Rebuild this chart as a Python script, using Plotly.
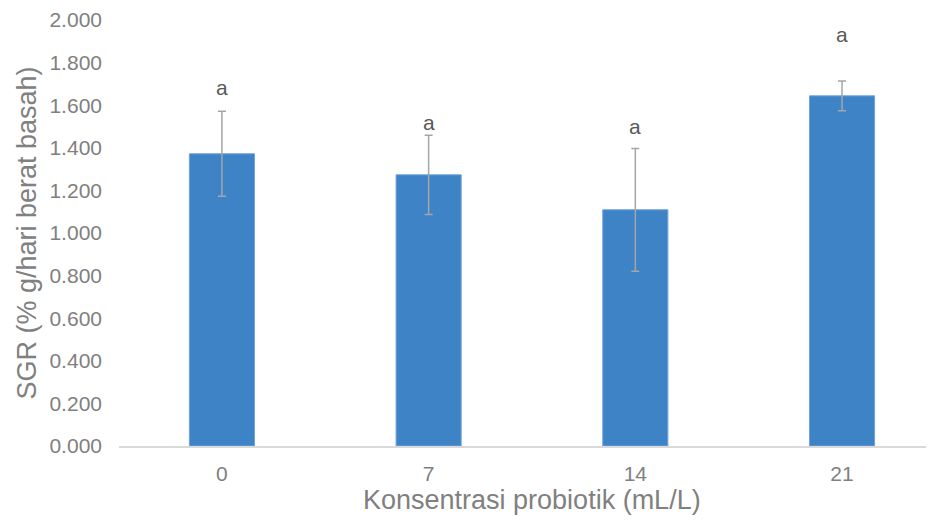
import plotly.graph_objects as go

categories = ["0", "7", "14", "21"]
sgr = [1.372, 1.273, 1.109, 1.644]
err = [0.200, 0.186, 0.288, 0.070]
letters = ["a", "a", "a", "a"]
letter_y = [1.681, 1.521, 1.498, 1.930]
y_ticks = [0, 0.2, 0.4, 0.6, 0.8, 1.0, 1.2, 1.4, 1.6, 1.8, 2.0]
y_tick_labels = ["0.000", "0.200", "0.400", "0.600", "0.800", "1.000",
                 "1.200", "1.400", "1.600", "1.800", "2.000"]

FONT = "Liberation Sans, Arial, sans-serif"
GRAY = "#808080"

fig = go.Figure()
fig.add_trace(go.Bar(
    x=list(range(len(categories))), y=sgr, width=0.315,
    marker=dict(color="#3E83C6", line=dict(color="#6FA3DA", width=1)),
    error_y=dict(type="data", array=err, visible=True, color="#A6A6A6",
                 thickness=1.5, width=4),
    showlegend=False,
))

for i, (ly, t) in enumerate(zip(letter_y, letters)):
    fig.add_annotation(x=i, y=ly, text=t, showarrow=False, yanchor="middle",
                       font=dict(family=FONT, size=21, color="#595959"))

fig.add_annotation(x=0.5067, y=-0.088, xref="paper", yref="paper",
                   text="Konsentrasi probiotik (mL/L)", showarrow=False,
                   xanchor="center", yanchor="top",
                   font=dict(family=FONT, size=27, color=GRAY))

fig.update_layout(
    width=926, height=513,
    margin=dict(l=111, r=0, t=12, b=75),
    plot_bgcolor="white", paper_bgcolor="white",
    font=dict(family=FONT, color=GRAY),
    xaxis=dict(
        range=[-0.498, 3.445],
        tickmode="array", tickvals=list(range(len(categories))), ticktext=categories,
        showline=True, linecolor="#D9D9D9", linewidth=1.5,
        showgrid=False, ticks="", zeroline=False,
        ticklabelstandoff=8,
        tickfont=dict(family=FONT, size=21, color=GRAY),
    ),
    yaxis=dict(
        range=[0, 2.0],
        tickmode="array", tickvals=y_ticks, ticktext=y_tick_labels,
        showline=False, showgrid=False, zeroline=False, ticks="",
        ticklabelstandoff=16,
        tickfont=dict(family=FONT, size=21, color=GRAY),
        title=dict(text="SGR (% g/hari berat basah)", standoff=4,
                   font=dict(family=FONT, size=27, color=GRAY)),
    ),
)

fig.write_html("out.html")
